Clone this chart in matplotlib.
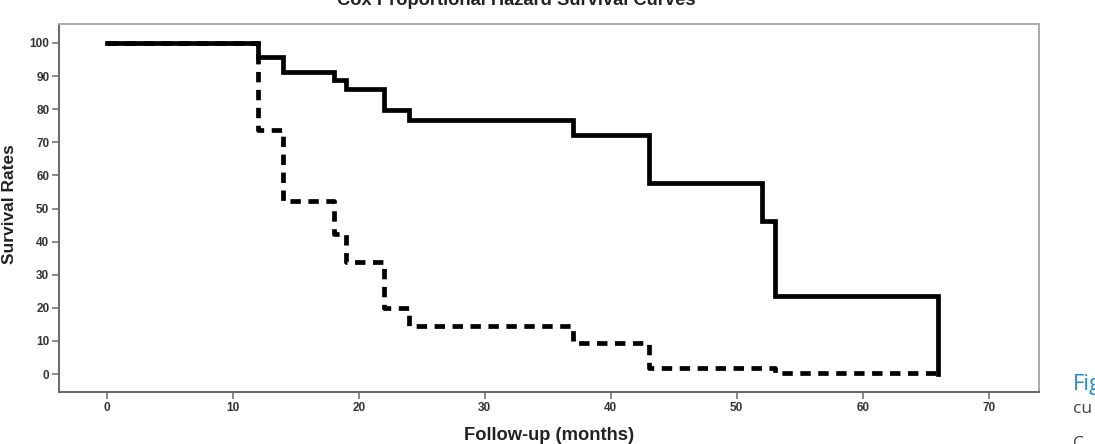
import matplotlib
matplotlib.use("Agg")
import matplotlib.pyplot as plt

# Survival steps (months, survival %)
solid_months = [0, 12, 14, 18, 19, 22, 24, 37, 43, 52, 53, 66, 66]
solid_rates = [100, 95.8, 91.3, 88.8, 86.1, 79.8, 76.6, 72.2, 57.6, 46.2, 23.7, 23.7, 0]

dashed_months = [0, 12, 14, 18, 19, 22, 24, 37, 43, 53, 66]
dashed_rates = [100, 73.8, 52.3, 42.3, 33.9, 19.9, 14.6, 9.5, 1.9, 0.4, 0.4]

x_ticks = [0, 10, 20, 30, 40, 50, 60, 70]
y_ticks = [0, 10, 20, 30, 40, 50, 60, 70, 80, 90, 100]

plt.rcParams['font.family'] = ['Liberation Sans', 'DejaVu Sans']

fig = plt.figure(figsize=(10.95, 4.44), dpi=100)
ax = fig.add_axes([0.0539, 0.1171, 0.895, 0.8288])

ax.step(dashed_months, dashed_rates, where='post', color='black', linewidth=3.4,
        dashes=(2.2, 1.6), solid_capstyle='butt', dash_capstyle='butt')
ax.step(solid_months, solid_rates, where='post', color='black', linewidth=3.4,
        solid_joinstyle='miter')

ax.set_xlim(-3.8, 74.0)
ax.set_ylim(-5.4, 105.7)
ax.set_xticks(x_ticks)
ax.set_yticks(y_ticks)
ax.tick_params(axis='both', direction='out', length=5, width=1.2, color='#777777',
               labelsize=8.5, labelcolor='#333333', pad=2)
for lab in ax.get_xticklabels() + ax.get_yticklabels():
    lab.set_fontweight('bold')

ax.spines['left'].set_color('#666666')
ax.spines['bottom'].set_color('#666666')
ax.spines['left'].set_linewidth(1.4)
ax.spines['bottom'].set_linewidth(1.4)
ax.spines['top'].set_color('#aaaaaa')
ax.spines['right'].set_color('#aaaaaa')
ax.spines['top'].set_linewidth(1.4)
ax.spines['right'].set_linewidth(1.4)

fig.text(10 / 1095, 1 - 204 / 444, 'Survival Rates', fontsize=12.5, fontweight='bold',
         color='#222222', rotation=90, ha='center', va='center')
fig.text(549 / 1095, 1 - 440 / 444, 'Follow-up (months)', fontsize=13.2, fontweight='bold',
         color='#222222', ha='center', va='baseline')
fig.text(516 / 1095, 1 - 5 / 444, 'Cox Proportional Hazard Survival Curves', fontsize=13.2,
         fontweight='bold', color='#222222', ha='center', va='baseline')

# cut-off caption at the right edge
fig.text(1073 / 1095, 1 - 390 / 444, 'Fig', fontsize=16, color='#1f8dd6',
         family=['Open Sans', 'DejaVu Sans'], va='baseline')
fig.text(1073 / 1095, 1 - 413 / 444, 'cu', fontsize=12.5, color='#444444',
         family=['Open Sans', 'DejaVu Sans'], va='baseline')
fig.text(1073 / 1095, 1 - 448 / 444, 'C', fontsize=12.5, color='#444444',
         family=['Open Sans', 'DejaVu Sans'], va='baseline')

plt.savefig('out.png', dpi=100)
